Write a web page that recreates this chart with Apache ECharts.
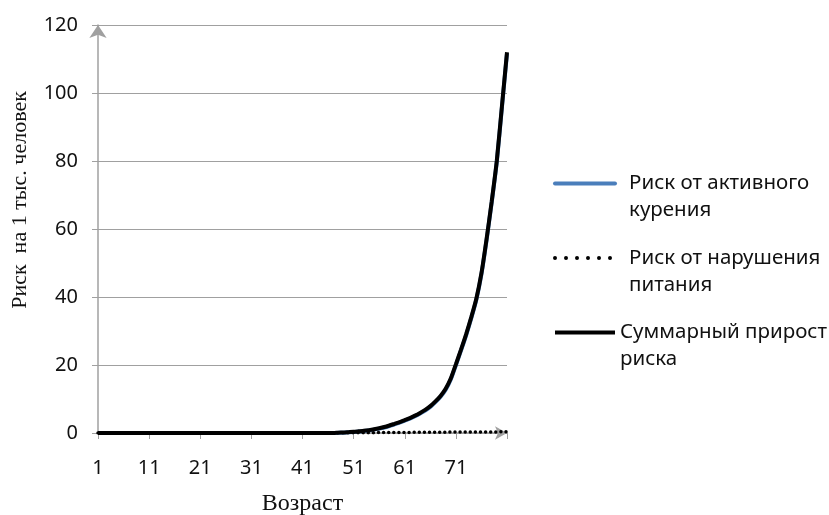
<!DOCTYPE html>
<html>
<head>
<meta charset="utf-8">
<script src="https://cdn.jsdelivr.net/npm/echarts@6/dist/echarts.min.js"></script>
<style>html,body{margin:0;padding:0;background:#fff}#c{width:829px;height:515px}</style>
</head>
<body>
<div id="c"></div>
<script>
const ages = Array.from({length: 81}, (_, i) => String(i + 1));
const yTicks = [0, 20, 40, 60, 80, 100, 120];
const seriesNames = ['Риск от активного курения', 'Риск от нарушения питания', 'Суммарный прирост риска'];
const smokingRisk = [
  0,0,0,0,0,0,0,0,0,0, 0,0,0,0,0,0,0,0,0,0,
  0,0,0,0,0,0,0,0,0,0, 0,0,0,0,0,0,0,0,0,0,
  0,0,0,0,0,0,0,0.05,0.1,0.19,
  0.28,0.42,0.56,0.75,0.99,1.28,1.62,2.06,2.55,3.04,
  3.63,4.22,4.91,5.7,6.59,7.68,9.07,10.66,12.75,15.74,
  19.93,24.22,28.72,33.71,39.2,46.7,56.7,67.7,79.7,95.65,111.6
];
const nutritionRisk = [
  0,0,0,0,0,0,0,0,0,0, 0,0,0,0,0,0,0,0,0,0,
  0,0,0,0,0,0,0,0,0,0, 0,0,0,0,0,0,0,0,0,0,
  0,0,0,0,0,0,0,0.05,0.05,0.06,
  0.07,0.08,0.09,0.1,0.11,0.12,0.13,0.14,0.15,0.16,
  0.17,0.18,0.19,0.2,0.21,0.22,0.23,0.24,0.25,0.26,
  0.27,0.28,0.28,0.29,0.3,0.3,0.31,0.32,0.33,0.35,0.4
];
const totalRisk = [
  0,0,0,0,0,0,0,0,0,0, 0,0,0,0,0,0,0,0,0,0,
  0,0,0,0,0,0,0,0,0,0, 0,0,0,0,0,0,0,0,0,0,
  0,0,0,0,0,0,0,0.1,0.15,0.25,
  0.35,0.5,0.65,0.85,1.1,1.4,1.75,2.2,2.7,3.2,
  3.8,4.4,5.1,5.9,6.8,7.9,9.3,10.9,13.0,16.0,
  20.2,24.5,29,34,39.5,47,57,68,80,96,112
];

const chart = echarts.init(document.getElementById('c'), null, {renderer: 'canvas'});
const legendLabels = {
  'Риск от активного курения': '{a|Риск от активного\nкурения}',
  'Риск от нарушения питания': '{a|Риск от нарушения\nпитания}',
  'Суммарный прирост риска': '{b|Суммарный прирост\nриска}'
};
const gray = '#a0a0a0';
chart.setOption({
  animation: false,
  grid: {left: 98, right: 322, top: 25, bottom: 82, containLabel: false, outerBoundsMode: 'none'},
  legend: {
    orient: 'vertical', left: 553, top: 173, padding: 0,
    itemWidth: 60, itemHeight: 14, itemGap: 26.5,
    itemStyle: {opacity: 0},
    formatter: n => legendLabels[n],
    textStyle: {
      padding: [27, 0, 0, 0],
      rich: {
        a: {fontFamily: 'Noto Sans', fontSize: 20.5, lineHeight: 27, color: '#111', padding: [0, 0, 0, 9]},
        b: {fontFamily: 'Noto Sans', fontSize: 20.5, lineHeight: 27, color: '#111'}
      }
    },
    data: [
      {name: seriesNames[0], lineStyle: {width: 4, color: '#4a7ebb', cap: 'round'}},
      {name: seriesNames[1], lineStyle: {type: [0, 11], cap: 'round', width: 4, color: '#000'}},
      {name: seriesNames[2], lineStyle: {width: 4, color: '#000'}}
    ]
  },
  xAxis: {
    type: 'category', data: ages, boundaryGap: false,
    name: 'Возраст', nameLocation: 'middle', nameGap: 59,
    nameTextStyle: {fontFamily: 'Liberation Serif', fontSize: 24, color: '#111'},
    axisLine: {lineStyle: {color: gray, width: 1.5}, symbol: ['none', 'arrow'], symbolSize: [10, 12], symbolOffset: [0, 0]},
    axisTick: {interval: i => i % 10 === 0, length: 6, lineStyle: {color: gray}},
    axisLabel: {interval: i => i % 10 === 0 && i < 80, margin: 25, fontFamily: 'Noto Sans', fontSize: 20, color: '#111'},
    splitLine: {show: false}
  },
  yAxis: {
    type: 'value', min: 0, max: 120, interval: 20,
    name: 'Риск  на 1 тыс. человек', nameLocation: 'middle', nameGap: 67, nameRotate: 90,
    nameTextStyle: {fontFamily: 'Liberation Serif', fontSize: 22, color: '#111', padding: [0, 0, 0, 58]},
    axisLine: {show: true, lineStyle: {color: gray, width: 1.5}, symbol: ['none', 'arrow'], symbolSize: [13, 13], symbolOffset: [0, 0]},
    axisTick: {show: true, length: 6, lineStyle: {color: gray}},
    axisLabel: {margin: 20, fontFamily: 'Noto Sans', fontSize: 20, color: '#111', formatter: v => yTicks.includes(v) ? String(v) : ''},
    splitLine: {lineStyle: {color: gray, width: 1}}
  },
  series: [
    {name: seriesNames[0], type: 'line', data: smokingRisk, symbol: 'none', smooth: 0.2,
     lineStyle: {color: '#4a7ebb', width: 4}, itemStyle: {color: '#4a7ebb'}},
    {name: seriesNames[1], type: 'line', data: nutritionRisk, symbol: 'none',
     lineStyle: {color: '#000', width: 3.5, type: [0, 5.1], cap: 'round'}, itemStyle: {color: '#000'}},
    {name: seriesNames[2], type: 'line', data: totalRisk, symbol: 'none', smooth: 0.2,
     lineStyle: {color: '#000', width: 4}, itemStyle: {color: '#000'}}
  ]
});
</script>
</body>
</html>
